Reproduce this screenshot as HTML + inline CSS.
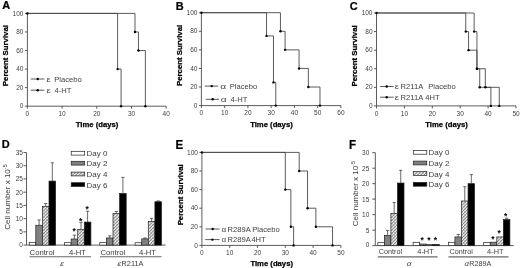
<!DOCTYPE html><html><head><meta charset="utf-8"><style>html,body{margin:0;padding:0;background:#fff;}#w svg{display:block;font-family:"Liberation Sans",Arial,sans-serif;}</style></head><body>
<div id="w"><svg xmlns="http://www.w3.org/2000/svg" width="520" height="268" viewBox="0 0 520 268">
<defs><pattern id="hatch" width="2.3" height="2.3" patternUnits="userSpaceOnUse" patternTransform="rotate(45)"><rect width="2.3" height="2.3" fill="#f0f0f0"/><rect width="2.3" height="0.6" fill="#b0b0b0"/><rect width="0.8" height="2.3" fill="#808080"/></pattern></defs>
<rect width="520" height="268" fill="#fff"/>
<text x="0" y="0" font-size="11.8" font-weight="bold" stroke="#000" stroke-width="0.25" fill="#000" transform="translate(2.13,9.4) scale(0.93,1)">A</text>
<line x1="27.4" y1="12.9" x2="27.4" y2="106.2" stroke="#4a4a4a" stroke-width="0.9"/>
<line x1="27.4" y1="106.2" x2="166.2" y2="106.2" stroke="#4a4a4a" stroke-width="0.9"/>
<line x1="24.9" y1="106.2" x2="27.4" y2="106.2" stroke="#4a4a4a" stroke-width="0.9"/>
<text x="23.4" y="108.3" font-size="6.5" text-anchor="end" fill="#404040">0</text>
<line x1="24.9" y1="87.64" x2="27.4" y2="87.64" stroke="#4a4a4a" stroke-width="0.9"/>
<text x="23.4" y="89.74" font-size="6.5" text-anchor="end" fill="#404040">20</text>
<line x1="24.9" y1="69.08" x2="27.4" y2="69.08" stroke="#4a4a4a" stroke-width="0.9"/>
<text x="23.4" y="71.18" font-size="6.5" text-anchor="end" fill="#404040">40</text>
<line x1="24.9" y1="50.52" x2="27.4" y2="50.52" stroke="#4a4a4a" stroke-width="0.9"/>
<text x="23.4" y="52.62" font-size="6.5" text-anchor="end" fill="#404040">60</text>
<line x1="24.9" y1="31.96" x2="27.4" y2="31.96" stroke="#4a4a4a" stroke-width="0.9"/>
<text x="23.4" y="34.06" font-size="6.5" text-anchor="end" fill="#404040">80</text>
<line x1="24.9" y1="13.4" x2="27.4" y2="13.4" stroke="#4a4a4a" stroke-width="0.9"/>
<text x="23.4" y="15.5" font-size="6.5" text-anchor="end" fill="#404040">100</text>
<line x1="27.4" y1="106.2" x2="27.4" y2="108.7" stroke="#4a4a4a" stroke-width="0.9"/>
<text x="27.4" y="115.8" font-size="6.5" text-anchor="middle" fill="#404040">0</text>
<line x1="62.1" y1="106.2" x2="62.1" y2="108.7" stroke="#4a4a4a" stroke-width="0.9"/>
<text x="62.1" y="115.8" font-size="6.5" text-anchor="middle" fill="#404040">10</text>
<line x1="96.8" y1="106.2" x2="96.8" y2="108.7" stroke="#4a4a4a" stroke-width="0.9"/>
<text x="96.8" y="115.8" font-size="6.5" text-anchor="middle" fill="#404040">20</text>
<line x1="131.5" y1="106.2" x2="131.5" y2="108.7" stroke="#4a4a4a" stroke-width="0.9"/>
<text x="131.5" y="115.8" font-size="6.5" text-anchor="middle" fill="#404040">30</text>
<line x1="166.2" y1="106.2" x2="166.2" y2="108.7" stroke="#4a4a4a" stroke-width="0.9"/>
<text x="166.2" y="115.8" font-size="6.5" text-anchor="middle" fill="#404040">40</text>
<path d="M27.4,13.4H117.62V69.08H121.09V106.2M27.4,13.4H134.97V31.96H138.44V50.52H145.38V106.2" fill="none" stroke="#4a4a4a" stroke-width="0.9"/>
<circle cx="27.4" cy="13.4" r="1.2" fill="#000"/>
<circle cx="117.62" cy="69.08" r="1.2" fill="#000"/>
<circle cx="121.09" cy="106.2" r="1.2" fill="#000"/>
<circle cx="134.97" cy="31.96" r="1.2" fill="#000"/>
<circle cx="138.44" cy="50.52" r="1.2" fill="#000"/>
<circle cx="145.38" cy="106.2" r="1.2" fill="#000"/>
<line x1="30.7" y1="79" x2="44.4" y2="79" stroke="#4a4a4a" stroke-width="0.9"/>
<circle cx="37.7" cy="79" r="1.2" fill="#000"/>
<text x="0" y="0" font-size="7.0" fill="#404040" transform="translate(46.6,81.8) scale(1.35,1)">ε</text>
<text x="54.3" y="81.8" font-size="7.6" fill="#404040">Placebo</text>
<line x1="30.7" y1="90.2" x2="44.4" y2="90.2" stroke="#4a4a4a" stroke-width="0.9"/>
<circle cx="37.7" cy="90.2" r="1.2" fill="#000"/>
<text x="0" y="0" font-size="7.0" fill="#404040" transform="translate(46.6,93) scale(1.35,1)">ε</text>
<text x="54.6" y="93" font-size="7.6" fill="#404040">4-HT</text>
<text x="0" y="0" font-size="7.8" font-weight="bold" stroke="#000" stroke-width="0.25" text-anchor="middle" fill="#000" transform="translate(8.2,55.6) rotate(-90)">Percent Survival</text>
<text x="97.1" y="127.1" font-size="7.7" text-anchor="middle" font-weight="bold" stroke="#000" stroke-width="0.25" fill="#000">Time (days)</text>
<text x="0" y="0" font-size="11.8" font-weight="bold" stroke="#000" stroke-width="0.25" fill="#000" transform="translate(175.76,9.6) scale(0.93,1)">B</text>
<line x1="201.4" y1="12.2" x2="201.4" y2="105.6" stroke="#4a4a4a" stroke-width="0.9"/>
<line x1="201.4" y1="105.6" x2="340.9" y2="105.6" stroke="#4a4a4a" stroke-width="0.9"/>
<line x1="198.9" y1="105.6" x2="201.4" y2="105.6" stroke="#4a4a4a" stroke-width="0.9"/>
<text x="197.4" y="107.7" font-size="6.5" text-anchor="end" fill="#404040">0</text>
<line x1="198.9" y1="87.02" x2="201.4" y2="87.02" stroke="#4a4a4a" stroke-width="0.9"/>
<text x="197.4" y="89.12" font-size="6.5" text-anchor="end" fill="#404040">20</text>
<line x1="198.9" y1="68.44" x2="201.4" y2="68.44" stroke="#4a4a4a" stroke-width="0.9"/>
<text x="197.4" y="70.54" font-size="6.5" text-anchor="end" fill="#404040">40</text>
<line x1="198.9" y1="49.86" x2="201.4" y2="49.86" stroke="#4a4a4a" stroke-width="0.9"/>
<text x="197.4" y="51.96" font-size="6.5" text-anchor="end" fill="#404040">60</text>
<line x1="198.9" y1="31.28" x2="201.4" y2="31.28" stroke="#4a4a4a" stroke-width="0.9"/>
<text x="197.4" y="33.38" font-size="6.5" text-anchor="end" fill="#404040">80</text>
<line x1="198.9" y1="12.7" x2="201.4" y2="12.7" stroke="#4a4a4a" stroke-width="0.9"/>
<text x="197.4" y="14.8" font-size="6.5" text-anchor="end" fill="#404040">100</text>
<line x1="201.4" y1="105.6" x2="201.4" y2="108.1" stroke="#4a4a4a" stroke-width="0.9"/>
<text x="201.4" y="115.2" font-size="6.5" text-anchor="middle" fill="#404040">0</text>
<line x1="224.65" y1="105.6" x2="224.65" y2="108.1" stroke="#4a4a4a" stroke-width="0.9"/>
<text x="224.65" y="115.2" font-size="6.5" text-anchor="middle" fill="#404040">10</text>
<line x1="247.9" y1="105.6" x2="247.9" y2="108.1" stroke="#4a4a4a" stroke-width="0.9"/>
<text x="247.9" y="115.2" font-size="6.5" text-anchor="middle" fill="#404040">20</text>
<line x1="271.15" y1="105.6" x2="271.15" y2="108.1" stroke="#4a4a4a" stroke-width="0.9"/>
<text x="271.15" y="115.2" font-size="6.5" text-anchor="middle" fill="#404040">30</text>
<line x1="294.4" y1="105.6" x2="294.4" y2="108.1" stroke="#4a4a4a" stroke-width="0.9"/>
<text x="294.4" y="115.2" font-size="6.5" text-anchor="middle" fill="#404040">40</text>
<line x1="317.65" y1="105.6" x2="317.65" y2="108.1" stroke="#4a4a4a" stroke-width="0.9"/>
<text x="317.65" y="115.2" font-size="6.5" text-anchor="middle" fill="#404040">50</text>
<line x1="340.9" y1="105.6" x2="340.9" y2="108.1" stroke="#4a4a4a" stroke-width="0.9"/>
<text x="340.9" y="115.2" font-size="6.5" text-anchor="middle" fill="#404040">60</text>
<path d="M201.4,12.7H266.5V35.92H273.48V82.38H275.8V105.6M201.4,12.7H280.45V31.28H285.1V49.86H299.05V68.44H308.35V87.02H319.98V105.6" fill="none" stroke="#4a4a4a" stroke-width="0.9"/>
<circle cx="201.4" cy="12.7" r="1.2" fill="#000"/>
<circle cx="266.5" cy="35.92" r="1.2" fill="#000"/>
<circle cx="273.48" cy="82.38" r="1.2" fill="#000"/>
<circle cx="275.8" cy="105.6" r="1.2" fill="#000"/>
<circle cx="280.45" cy="31.28" r="1.2" fill="#000"/>
<circle cx="285.1" cy="49.86" r="1.2" fill="#000"/>
<circle cx="299.05" cy="68.44" r="1.2" fill="#000"/>
<circle cx="308.35" cy="87.02" r="1.2" fill="#000"/>
<circle cx="319.98" cy="105.6" r="1.2" fill="#000"/>
<line x1="204.8" y1="86.1" x2="218.2" y2="86.1" stroke="#4a4a4a" stroke-width="0.9"/>
<circle cx="211.7" cy="86.1" r="1.2" fill="#000"/>
<text x="0" y="0" font-size="7.0" fill="#404040" transform="translate(220.2,88.9) scale(1.45,1)">α</text>
<text x="229.8" y="88.9" font-size="7.6" fill="#404040">Placebo</text>
<line x1="205.7" y1="99.3" x2="219.1" y2="99.3" stroke="#4a4a4a" stroke-width="0.9"/>
<circle cx="212.7" cy="99.3" r="1.2" fill="#000"/>
<text x="0" y="0" font-size="7.0" fill="#404040" transform="translate(220.8,102.1) scale(1.45,1)">α</text>
<text x="230.5" y="102.1" font-size="7.6" fill="#404040">4-HT</text>
<text x="0" y="0" font-size="7.8" font-weight="bold" stroke="#000" stroke-width="0.25" text-anchor="middle" fill="#000" transform="translate(182.2,55.4) rotate(-90)">Percent Survival</text>
<text x="271.45" y="126.5" font-size="7.7" text-anchor="middle" font-weight="bold" stroke="#000" stroke-width="0.25" fill="#000">Time (days)</text>
<text x="0" y="0" font-size="11.8" font-weight="bold" stroke="#000" stroke-width="0.25" fill="#000" transform="translate(349.75,9.6) scale(0.93,1)">C</text>
<line x1="376.5" y1="12.5" x2="376.5" y2="105.9" stroke="#4a4a4a" stroke-width="0.9"/>
<line x1="376.5" y1="105.9" x2="516" y2="105.9" stroke="#4a4a4a" stroke-width="0.9"/>
<line x1="374" y1="105.9" x2="376.5" y2="105.9" stroke="#4a4a4a" stroke-width="0.9"/>
<text x="372.5" y="108" font-size="6.5" text-anchor="end" fill="#404040">0</text>
<line x1="374" y1="87.32" x2="376.5" y2="87.32" stroke="#4a4a4a" stroke-width="0.9"/>
<text x="372.5" y="89.42" font-size="6.5" text-anchor="end" fill="#404040">20</text>
<line x1="374" y1="68.74" x2="376.5" y2="68.74" stroke="#4a4a4a" stroke-width="0.9"/>
<text x="372.5" y="70.84" font-size="6.5" text-anchor="end" fill="#404040">40</text>
<line x1="374" y1="50.16" x2="376.5" y2="50.16" stroke="#4a4a4a" stroke-width="0.9"/>
<text x="372.5" y="52.26" font-size="6.5" text-anchor="end" fill="#404040">60</text>
<line x1="374" y1="31.58" x2="376.5" y2="31.58" stroke="#4a4a4a" stroke-width="0.9"/>
<text x="372.5" y="33.68" font-size="6.5" text-anchor="end" fill="#404040">80</text>
<line x1="374" y1="13" x2="376.5" y2="13" stroke="#4a4a4a" stroke-width="0.9"/>
<text x="372.5" y="15.1" font-size="6.5" text-anchor="end" fill="#404040">100</text>
<line x1="376.5" y1="105.9" x2="376.5" y2="108.4" stroke="#4a4a4a" stroke-width="0.9"/>
<text x="376.5" y="115.5" font-size="6.5" text-anchor="middle" fill="#404040">0</text>
<line x1="404.4" y1="105.9" x2="404.4" y2="108.4" stroke="#4a4a4a" stroke-width="0.9"/>
<text x="404.4" y="115.5" font-size="6.5" text-anchor="middle" fill="#404040">10</text>
<line x1="432.3" y1="105.9" x2="432.3" y2="108.4" stroke="#4a4a4a" stroke-width="0.9"/>
<text x="432.3" y="115.5" font-size="6.5" text-anchor="middle" fill="#404040">20</text>
<line x1="460.2" y1="105.9" x2="460.2" y2="108.4" stroke="#4a4a4a" stroke-width="0.9"/>
<text x="460.2" y="115.5" font-size="6.5" text-anchor="middle" fill="#404040">30</text>
<line x1="488.1" y1="105.9" x2="488.1" y2="108.4" stroke="#4a4a4a" stroke-width="0.9"/>
<text x="488.1" y="115.5" font-size="6.5" text-anchor="middle" fill="#404040">40</text>
<line x1="516" y1="105.9" x2="516" y2="108.4" stroke="#4a4a4a" stroke-width="0.9"/>
<text x="516" y="115.5" font-size="6.5" text-anchor="middle" fill="#404040">50</text>
<path d="M376.5,13H465.78V31.58H468.57V50.16H476.94V68.74H479.73V87.32H490.89V105.9M376.5,13H474.15V31.58H476.94V68.74H485.31V87.32H499.26V105.9" fill="none" stroke="#4a4a4a" stroke-width="0.9"/>
<circle cx="376.5" cy="13" r="1.2" fill="#000"/>
<circle cx="465.78" cy="31.58" r="1.2" fill="#000"/>
<circle cx="468.57" cy="50.16" r="1.2" fill="#000"/>
<circle cx="476.94" cy="68.74" r="1.2" fill="#000"/>
<circle cx="479.73" cy="87.32" r="1.2" fill="#000"/>
<circle cx="490.89" cy="105.9" r="1.2" fill="#000"/>
<circle cx="474.15" cy="31.58" r="1.2" fill="#000"/>
<circle cx="476.94" cy="68.74" r="1.2" fill="#000"/>
<circle cx="485.31" cy="87.32" r="1.2" fill="#000"/>
<circle cx="499.26" cy="105.9" r="1.2" fill="#000"/>
<line x1="380.1" y1="86.5" x2="393.6" y2="86.5" stroke="#4a4a4a" stroke-width="0.9"/>
<circle cx="386.7" cy="86.5" r="1.2" fill="#000"/>
<text x="0" y="0" font-size="7.0" fill="#404040" transform="translate(394.8,89.3) scale(1.35,1)">ε</text>
<text x="400.6" y="89.3" font-size="7.6" fill="#404040">R211A</text>
<text x="428.2" y="89.3" font-size="7.6" fill="#404040">Placebo</text>
<line x1="380.1" y1="97.2" x2="393.6" y2="97.2" stroke="#4a4a4a" stroke-width="0.9"/>
<circle cx="386.7" cy="97.2" r="1.2" fill="#000"/>
<text x="0" y="0" font-size="7.0" fill="#404040" transform="translate(394.8,100) scale(1.35,1)">ε</text>
<text x="400.6" y="100" font-size="7.6" fill="#404040">R211A</text>
<text x="425.3" y="100" font-size="7.6" fill="#404040">4HT</text>
<text x="0" y="0" font-size="7.8" font-weight="bold" stroke="#000" stroke-width="0.25" text-anchor="middle" fill="#000" transform="translate(357.3,55.9) rotate(-90)">Percent Survival</text>
<text x="446.55" y="126.8" font-size="7.7" text-anchor="middle" font-weight="bold" stroke="#000" stroke-width="0.25" fill="#000">Time (days)</text>
<text x="0" y="0" font-size="12.4" font-weight="bold" stroke="#000" stroke-width="0.25" fill="#000" transform="translate(175.62,148.8) scale(0.93,1)">E</text>
<line x1="201.9" y1="151.9" x2="201.9" y2="245.4" stroke="#4a4a4a" stroke-width="0.9"/>
<line x1="201.9" y1="245.4" x2="340.9" y2="245.4" stroke="#4a4a4a" stroke-width="0.9"/>
<line x1="199.4" y1="245.4" x2="201.9" y2="245.4" stroke="#4a4a4a" stroke-width="0.9"/>
<text x="197.9" y="247.5" font-size="6.5" text-anchor="end" fill="#404040">0</text>
<line x1="199.4" y1="226.8" x2="201.9" y2="226.8" stroke="#4a4a4a" stroke-width="0.9"/>
<text x="197.9" y="228.9" font-size="6.5" text-anchor="end" fill="#404040">20</text>
<line x1="199.4" y1="208.2" x2="201.9" y2="208.2" stroke="#4a4a4a" stroke-width="0.9"/>
<text x="197.9" y="210.3" font-size="6.5" text-anchor="end" fill="#404040">40</text>
<line x1="199.4" y1="189.6" x2="201.9" y2="189.6" stroke="#4a4a4a" stroke-width="0.9"/>
<text x="197.9" y="191.7" font-size="6.5" text-anchor="end" fill="#404040">60</text>
<line x1="199.4" y1="171" x2="201.9" y2="171" stroke="#4a4a4a" stroke-width="0.9"/>
<text x="197.9" y="173.1" font-size="6.5" text-anchor="end" fill="#404040">80</text>
<line x1="199.4" y1="152.4" x2="201.9" y2="152.4" stroke="#4a4a4a" stroke-width="0.9"/>
<text x="197.9" y="154.5" font-size="6.5" text-anchor="end" fill="#404040">100</text>
<line x1="201.9" y1="245.4" x2="201.9" y2="247.9" stroke="#4a4a4a" stroke-width="0.9"/>
<text x="201.9" y="255" font-size="6.5" text-anchor="middle" fill="#404040">0</text>
<line x1="229.7" y1="245.4" x2="229.7" y2="247.9" stroke="#4a4a4a" stroke-width="0.9"/>
<text x="229.7" y="255" font-size="6.5" text-anchor="middle" fill="#404040">10</text>
<line x1="257.5" y1="245.4" x2="257.5" y2="247.9" stroke="#4a4a4a" stroke-width="0.9"/>
<text x="257.5" y="255" font-size="6.5" text-anchor="middle" fill="#404040">20</text>
<line x1="285.3" y1="245.4" x2="285.3" y2="247.9" stroke="#4a4a4a" stroke-width="0.9"/>
<text x="285.3" y="255" font-size="6.5" text-anchor="middle" fill="#404040">30</text>
<line x1="313.1" y1="245.4" x2="313.1" y2="247.9" stroke="#4a4a4a" stroke-width="0.9"/>
<text x="313.1" y="255" font-size="6.5" text-anchor="middle" fill="#404040">40</text>
<line x1="340.9" y1="245.4" x2="340.9" y2="247.9" stroke="#4a4a4a" stroke-width="0.9"/>
<text x="340.9" y="255" font-size="6.5" text-anchor="middle" fill="#404040">50</text>
<path d="M201.9,152.4H285.3V189.6H290.86V226.8H293.64V245.4M201.9,152.4H299.2V171H307.54V208.2H315.88V226.8H332.56V245.4" fill="none" stroke="#4a4a4a" stroke-width="0.9"/>
<circle cx="201.9" cy="152.4" r="1.2" fill="#000"/>
<circle cx="285.3" cy="189.6" r="1.2" fill="#000"/>
<circle cx="290.86" cy="226.8" r="1.2" fill="#000"/>
<circle cx="293.64" cy="245.4" r="1.2" fill="#000"/>
<circle cx="299.2" cy="171" r="1.2" fill="#000"/>
<circle cx="307.54" cy="208.2" r="1.2" fill="#000"/>
<circle cx="315.88" cy="226.8" r="1.2" fill="#000"/>
<circle cx="332.56" cy="245.4" r="1.2" fill="#000"/>
<line x1="205.6" y1="229" x2="219.6" y2="229" stroke="#4a4a4a" stroke-width="0.9"/>
<circle cx="212.7" cy="229" r="1.2" fill="#000"/>
<text x="0" y="0" font-size="7.0" fill="#404040" transform="translate(221.6,231.8) scale(1.15,1)">α</text>
<text x="227.5" y="231.8" font-size="7.6" fill="#404040">R289A</text>
<text x="252.3" y="231.8" font-size="7.6" fill="#404040">Placebo</text>
<line x1="205.2" y1="239.6" x2="219.6" y2="239.6" stroke="#4a4a4a" stroke-width="0.9"/>
<circle cx="212.4" cy="239.6" r="1.2" fill="#000"/>
<text x="0" y="0" font-size="7.0" fill="#404040" transform="translate(221.6,242.4) scale(1.15,1)">α</text>
<text x="227.5" y="242.4" font-size="7.6" fill="#404040">R289A</text>
<text x="251.4" y="242.4" font-size="7.6" fill="#404040">4HT</text>
<text x="0" y="0" font-size="7.8" font-weight="bold" stroke="#000" stroke-width="0.25" text-anchor="middle" fill="#000" transform="translate(182.7,194.8) rotate(-90)">Percent Survival</text>
<text x="271.7" y="266.3" font-size="7.7" text-anchor="middle" font-weight="bold" stroke="#000" stroke-width="0.25" fill="#000">Time (days)</text>
<text x="0" y="0" font-size="11.8" font-weight="bold" stroke="#000" stroke-width="0.25" fill="#000" transform="translate(1.66,147.9) scale(0.93,1)">D</text>
<line x1="26.5" y1="152.49" x2="26.5" y2="245.1" stroke="#4a4a4a" stroke-width="0.9"/>
<line x1="26.5" y1="245.1" x2="165.6" y2="245.1" stroke="#4a4a4a" stroke-width="0.9"/>
<line x1="23.5" y1="245.1" x2="26.5" y2="245.1" stroke="#4a4a4a" stroke-width="0.9"/>
<text x="22.9" y="246.7" font-size="6.5" text-anchor="end" fill="#404040">0</text>
<line x1="23.5" y1="231.87" x2="26.5" y2="231.87" stroke="#4a4a4a" stroke-width="0.9"/>
<text x="22.9" y="234.27" font-size="6.5" text-anchor="end" fill="#404040">5</text>
<line x1="23.5" y1="218.64" x2="26.5" y2="218.64" stroke="#4a4a4a" stroke-width="0.9"/>
<text x="22.9" y="221.04" font-size="6.5" text-anchor="end" fill="#404040">10</text>
<line x1="23.5" y1="205.41" x2="26.5" y2="205.41" stroke="#4a4a4a" stroke-width="0.9"/>
<text x="22.9" y="207.81" font-size="6.5" text-anchor="end" fill="#404040">15</text>
<line x1="23.5" y1="192.18" x2="26.5" y2="192.18" stroke="#4a4a4a" stroke-width="0.9"/>
<text x="22.9" y="194.58" font-size="6.5" text-anchor="end" fill="#404040">20</text>
<line x1="23.5" y1="178.95" x2="26.5" y2="178.95" stroke="#4a4a4a" stroke-width="0.9"/>
<text x="22.9" y="181.35" font-size="6.5" text-anchor="end" fill="#404040">25</text>
<line x1="23.5" y1="165.72" x2="26.5" y2="165.72" stroke="#4a4a4a" stroke-width="0.9"/>
<text x="22.9" y="168.12" font-size="6.5" text-anchor="end" fill="#404040">30</text>
<line x1="23.5" y1="152.49" x2="26.5" y2="152.49" stroke="#4a4a4a" stroke-width="0.9"/>
<text x="22.9" y="154.89" font-size="6.5" text-anchor="end" fill="#404040">35</text>
<rect x="29.2" y="242.32" width="6.6" height="2.78" fill="#fff" stroke="#222" stroke-width="0.7"/>
<rect x="35.8" y="225.25" width="6.6" height="19.84" fill="#808080" stroke="#222" stroke-width="0.7"/>
<line x1="39.1" y1="219.96" x2="39.1" y2="225.25" stroke="#444" stroke-width="0.8"/>
<line x1="37.5" y1="219.96" x2="40.7" y2="219.96" stroke="#444" stroke-width="0.8"/>
<rect x="42.4" y="206.47" width="6.6" height="38.63" fill="url(#hatch)" stroke="#222" stroke-width="0.7"/>
<line x1="45.7" y1="203.56" x2="45.7" y2="206.47" stroke="#444" stroke-width="0.8"/>
<line x1="44.1" y1="203.56" x2="47.3" y2="203.56" stroke="#444" stroke-width="0.8"/>
<rect x="49" y="181.07" width="6.6" height="64.03" fill="#000" stroke="#222" stroke-width="0.7"/>
<line x1="52.3" y1="162.81" x2="52.3" y2="181.07" stroke="#444" stroke-width="0.8"/>
<line x1="50.7" y1="162.81" x2="53.9" y2="162.81" stroke="#444" stroke-width="0.8"/>
<rect x="64.5" y="242.72" width="6.6" height="2.38" fill="#fff" stroke="#222" stroke-width="0.7"/>
<rect x="71.1" y="239.01" width="6.6" height="6.09" fill="#808080" stroke="#222" stroke-width="0.7"/>
<line x1="74.4" y1="235.18" x2="74.4" y2="239.01" stroke="#444" stroke-width="0.8"/>
<line x1="72.8" y1="235.18" x2="76" y2="235.18" stroke="#444" stroke-width="0.8"/>
<rect x="77.7" y="229.49" width="6.6" height="15.61" fill="url(#hatch)" stroke="#222" stroke-width="0.7"/>
<line x1="81" y1="222.61" x2="81" y2="229.49" stroke="#444" stroke-width="0.8"/>
<line x1="79.4" y1="222.61" x2="82.6" y2="222.61" stroke="#444" stroke-width="0.8"/>
<rect x="84.3" y="222.08" width="6.6" height="23.02" fill="#000" stroke="#222" stroke-width="0.7"/>
<line x1="87.6" y1="211.23" x2="87.6" y2="222.08" stroke="#444" stroke-width="0.8"/>
<line x1="86" y1="211.23" x2="89.2" y2="211.23" stroke="#444" stroke-width="0.8"/>
<rect x="99.8" y="242.45" width="6.6" height="2.65" fill="#fff" stroke="#222" stroke-width="0.7"/>
<rect x="106.4" y="237.96" width="6.6" height="7.14" fill="#808080" stroke="#222" stroke-width="0.7"/>
<line x1="109.7" y1="235.84" x2="109.7" y2="237.96" stroke="#444" stroke-width="0.8"/>
<line x1="108.1" y1="235.84" x2="111.3" y2="235.84" stroke="#444" stroke-width="0.8"/>
<rect x="113" y="213.35" width="6.6" height="31.75" fill="url(#hatch)" stroke="#222" stroke-width="0.7"/>
<line x1="116.3" y1="211.5" x2="116.3" y2="213.35" stroke="#444" stroke-width="0.8"/>
<line x1="114.7" y1="211.5" x2="117.9" y2="211.5" stroke="#444" stroke-width="0.8"/>
<rect x="119.6" y="193.5" width="6.6" height="51.6" fill="#000" stroke="#222" stroke-width="0.7"/>
<line x1="122.9" y1="177.36" x2="122.9" y2="193.5" stroke="#444" stroke-width="0.8"/>
<line x1="121.3" y1="177.36" x2="124.5" y2="177.36" stroke="#444" stroke-width="0.8"/>
<rect x="135.1" y="242.72" width="6.6" height="2.38" fill="#fff" stroke="#222" stroke-width="0.7"/>
<rect x="141.7" y="238.88" width="6.6" height="6.22" fill="#808080" stroke="#222" stroke-width="0.7"/>
<line x1="145" y1="237.96" x2="145" y2="238.88" stroke="#444" stroke-width="0.8"/>
<line x1="143.4" y1="237.96" x2="146.6" y2="237.96" stroke="#444" stroke-width="0.8"/>
<rect x="148.3" y="221.55" width="6.6" height="23.55" fill="url(#hatch)" stroke="#222" stroke-width="0.7"/>
<line x1="151.6" y1="218.38" x2="151.6" y2="221.55" stroke="#444" stroke-width="0.8"/>
<line x1="150" y1="218.38" x2="153.2" y2="218.38" stroke="#444" stroke-width="0.8"/>
<rect x="154.9" y="201.71" width="6.6" height="43.39" fill="#000" stroke="#222" stroke-width="0.7"/>
<line x1="158.2" y1="200.91" x2="158.2" y2="201.71" stroke="#444" stroke-width="0.8"/>
<line x1="156.6" y1="200.91" x2="159.8" y2="200.91" stroke="#444" stroke-width="0.8"/>
<text x="74.1" y="234.3" font-size="8.5" font-weight="bold" text-anchor="middle" fill="#000">*</text>
<text x="80.7" y="224.3" font-size="8.5" font-weight="bold" text-anchor="middle" fill="#000">*</text>
<text x="87.1" y="211.6" font-size="8.5" font-weight="bold" text-anchor="middle" fill="#000">*</text>
<text x="42" y="254.6" font-size="7.7" text-anchor="middle" fill="#404040">Control</text>
<text x="77.5" y="254.6" font-size="7.7" text-anchor="middle" fill="#404040">4-HT</text>
<text x="112.8" y="254.6" font-size="7.7" text-anchor="middle" fill="#404040">Control</text>
<text x="147.5" y="254.6" font-size="7.7" text-anchor="middle" fill="#404040">4-HT</text>
<line x1="29.5" y1="256.8" x2="91" y2="256.8" stroke="#6a6a6a" stroke-width="1.1"/>
<line x1="100" y1="256.8" x2="161.5" y2="256.8" stroke="#6a6a6a" stroke-width="1.1"/>
<text x="0" y="0" font-size="7.0" fill="#404040" transform="translate(59.6,266.2) scale(1.25,1) skewX(-14)">ε</text>
<text x="0" y="0" font-size="7.0" fill="#404040" transform="translate(117,266.2) scale(1.2,1) skewX(-14)">ε</text>
<text x="121.6" y="266.2" font-size="7.3" fill="#404040">R211A</text>
<rect x="71.2" y="151.3" width="13.5" height="3.8" fill="#fff" stroke="#222" stroke-width="0.7"/>
<text x="86.5" y="156.2" font-size="8.0" fill="#404040">Day 0</text>
<rect x="71.2" y="161.3" width="13.5" height="3.8" fill="#808080" stroke="#222" stroke-width="0.7"/>
<text x="86.5" y="166.2" font-size="8.0" fill="#404040">Day 2</text>
<rect x="71.2" y="172.1" width="13.5" height="3.8" fill="url(#hatch)" stroke="#222" stroke-width="0.7"/>
<text x="86.5" y="177" font-size="8.0" fill="#404040">Day 4</text>
<rect x="71.2" y="182.7" width="13.5" height="3.8" fill="#000" stroke="#222" stroke-width="0.7"/>
<text x="86.5" y="187.6" font-size="8.0" fill="#404040">Day 6</text>
<text x="0" y="0" font-size="8.0" text-anchor="middle" fill="#404040" transform="translate(10,197) rotate(-90)">Cell number x 10<tspan font-size="5.5" dy="-2.8">-5</tspan></text>
<text x="0" y="0" font-size="12.4" font-weight="bold" stroke="#000" stroke-width="0.25" fill="#000" transform="translate(349.02,148.8) scale(0.93,1)">F</text>
<line x1="375.3" y1="152.69" x2="375.3" y2="245.6" stroke="#4a4a4a" stroke-width="0.9"/>
<line x1="375.3" y1="245.6" x2="513.7" y2="245.6" stroke="#4a4a4a" stroke-width="0.9"/>
<line x1="372.3" y1="245.6" x2="375.3" y2="245.6" stroke="#4a4a4a" stroke-width="0.9"/>
<text x="369.3" y="247.2" font-size="6.5" text-anchor="end" fill="#404040">0</text>
<line x1="372.3" y1="230.12" x2="375.3" y2="230.12" stroke="#4a4a4a" stroke-width="0.9"/>
<text x="369.3" y="232.52" font-size="6.5" text-anchor="end" fill="#404040">5</text>
<line x1="372.3" y1="214.63" x2="375.3" y2="214.63" stroke="#4a4a4a" stroke-width="0.9"/>
<text x="369.3" y="217.03" font-size="6.5" text-anchor="end" fill="#404040">10</text>
<line x1="372.3" y1="199.14" x2="375.3" y2="199.14" stroke="#4a4a4a" stroke-width="0.9"/>
<text x="369.3" y="201.54" font-size="6.5" text-anchor="end" fill="#404040">15</text>
<line x1="372.3" y1="183.66" x2="375.3" y2="183.66" stroke="#4a4a4a" stroke-width="0.9"/>
<text x="369.3" y="186.06" font-size="6.5" text-anchor="end" fill="#404040">20</text>
<line x1="372.3" y1="168.18" x2="375.3" y2="168.18" stroke="#4a4a4a" stroke-width="0.9"/>
<text x="369.3" y="170.58" font-size="6.5" text-anchor="end" fill="#404040">25</text>
<line x1="372.3" y1="152.69" x2="375.3" y2="152.69" stroke="#4a4a4a" stroke-width="0.9"/>
<text x="369.3" y="155.09" font-size="6.5" text-anchor="end" fill="#404040">30</text>
<rect x="377.8" y="242.69" width="6.55" height="2.91" fill="#fff" stroke="#222" stroke-width="0.7"/>
<rect x="384.35" y="235.38" width="6.55" height="10.22" fill="#808080" stroke="#222" stroke-width="0.7"/>
<line x1="387.62" y1="230.42" x2="387.62" y2="235.38" stroke="#444" stroke-width="0.8"/>
<line x1="386.02" y1="230.42" x2="389.23" y2="230.42" stroke="#444" stroke-width="0.8"/>
<rect x="390.9" y="213.39" width="6.55" height="32.21" fill="url(#hatch)" stroke="#222" stroke-width="0.7"/>
<line x1="394.18" y1="202.55" x2="394.18" y2="213.39" stroke="#444" stroke-width="0.8"/>
<line x1="392.57" y1="202.55" x2="395.78" y2="202.55" stroke="#444" stroke-width="0.8"/>
<rect x="397.45" y="183.04" width="6.55" height="62.56" fill="#000" stroke="#222" stroke-width="0.7"/>
<line x1="400.72" y1="170.34" x2="400.72" y2="183.04" stroke="#444" stroke-width="0.8"/>
<line x1="399.12" y1="170.34" x2="402.32" y2="170.34" stroke="#444" stroke-width="0.8"/>
<rect x="413.1" y="242.29" width="6.55" height="3.31" fill="#fff" stroke="#222" stroke-width="0.7"/>
<rect x="419.65" y="244.05" width="6.55" height="1.55" fill="#808080" stroke="#222" stroke-width="0.7"/>
<rect x="426.2" y="244.36" width="6.55" height="1.24" fill="url(#hatch)" stroke="#222" stroke-width="0.7"/>
<rect x="432.75" y="244.36" width="6.55" height="1.24" fill="#000" stroke="#222" stroke-width="0.7"/>
<rect x="448.4" y="242.29" width="6.55" height="3.31" fill="#fff" stroke="#222" stroke-width="0.7"/>
<rect x="454.95" y="236.93" width="6.55" height="8.67" fill="#808080" stroke="#222" stroke-width="0.7"/>
<line x1="458.22" y1="234.45" x2="458.22" y2="236.93" stroke="#444" stroke-width="0.8"/>
<line x1="456.62" y1="234.45" x2="459.82" y2="234.45" stroke="#444" stroke-width="0.8"/>
<rect x="461.5" y="201" width="6.55" height="44.6" fill="url(#hatch)" stroke="#222" stroke-width="0.7"/>
<line x1="464.77" y1="186.76" x2="464.77" y2="201" stroke="#444" stroke-width="0.8"/>
<line x1="463.17" y1="186.76" x2="466.38" y2="186.76" stroke="#444" stroke-width="0.8"/>
<rect x="468.05" y="183.66" width="6.55" height="61.94" fill="#000" stroke="#222" stroke-width="0.7"/>
<line x1="471.32" y1="174.68" x2="471.32" y2="183.66" stroke="#444" stroke-width="0.8"/>
<line x1="469.72" y1="174.68" x2="472.92" y2="174.68" stroke="#444" stroke-width="0.8"/>
<rect x="483.7" y="242.5" width="6.55" height="3.1" fill="#fff" stroke="#222" stroke-width="0.7"/>
<rect x="490.25" y="242.19" width="6.55" height="3.41" fill="#808080" stroke="#222" stroke-width="0.7"/>
<rect x="496.8" y="236.93" width="6.55" height="8.67" fill="url(#hatch)" stroke="#222" stroke-width="0.7"/>
<rect x="503.35" y="219.59" width="6.55" height="26.01" fill="#000" stroke="#222" stroke-width="0.7"/>
<line x1="506.62" y1="218.19" x2="506.62" y2="219.59" stroke="#444" stroke-width="0.8"/>
<line x1="505.02" y1="218.19" x2="508.22" y2="218.19" stroke="#444" stroke-width="0.8"/>
<text x="422.2" y="243.3" font-size="8.5" font-weight="bold" text-anchor="middle" fill="#000">*</text>
<text x="429" y="243.3" font-size="8.5" font-weight="bold" text-anchor="middle" fill="#000">*</text>
<text x="435.3" y="243.3" font-size="8.5" font-weight="bold" text-anchor="middle" fill="#000">*</text>
<text x="492.8" y="241.5" font-size="8.5" font-weight="bold" text-anchor="middle" fill="#000">*</text>
<text x="499.1" y="236" font-size="8.5" font-weight="bold" text-anchor="middle" fill="#000">*</text>
<text x="505.7" y="219" font-size="8.5" font-weight="bold" text-anchor="middle" fill="#000">*</text>
<text x="390.4" y="254.2" font-size="7.2" text-anchor="middle" fill="#404040">Control</text>
<text x="425.5" y="254.2" font-size="7.4" text-anchor="middle" fill="#404040">4-HT</text>
<text x="461.2" y="254.2" font-size="7.2" text-anchor="middle" fill="#404040">Control</text>
<text x="495.3" y="254.2" font-size="7.4" text-anchor="middle" fill="#404040">4-HT</text>
<line x1="377.8" y1="256.9" x2="437.6" y2="256.9" stroke="#6a6a6a" stroke-width="1.1"/>
<line x1="448.5" y1="256.9" x2="508.5" y2="256.9" stroke="#6a6a6a" stroke-width="1.1"/>
<text x="0" y="0" font-size="7.0" fill="#404040" transform="translate(406.3,265.6) scale(1.15,1) skewX(-14)">α</text>
<text x="0" y="0" font-size="7.0" fill="#404040" transform="translate(464,265.6) scale(1.1,1) skewX(-14)">α</text>
<text x="469.3" y="265.6" font-size="7.2" fill="#404040">R289A</text>
<rect x="413.3" y="150.4" width="13.5" height="3.8" fill="#fff" stroke="#222" stroke-width="0.7"/>
<text x="428.6" y="155.3" font-size="8.0" fill="#404040">Day 0</text>
<rect x="413.3" y="161.1" width="13.5" height="3.8" fill="#808080" stroke="#222" stroke-width="0.7"/>
<text x="428.6" y="166" font-size="8.0" fill="#404040">Day 2</text>
<rect x="413.3" y="171.6" width="13.5" height="3.8" fill="url(#hatch)" stroke="#222" stroke-width="0.7"/>
<text x="428.6" y="176.5" font-size="8.0" fill="#404040">Day 4</text>
<rect x="413.3" y="182.4" width="13.5" height="3.8" fill="#000" stroke="#222" stroke-width="0.7"/>
<text x="428.6" y="187.3" font-size="8.0" fill="#404040">Day 6</text>
<text x="0" y="0" font-size="8.0" text-anchor="middle" fill="#404040" transform="translate(357.8,193.6) rotate(-90)">Cell number x 10<tspan font-size="5.5" dy="-2.8">-5</tspan></text>
</svg></div></body></html>
